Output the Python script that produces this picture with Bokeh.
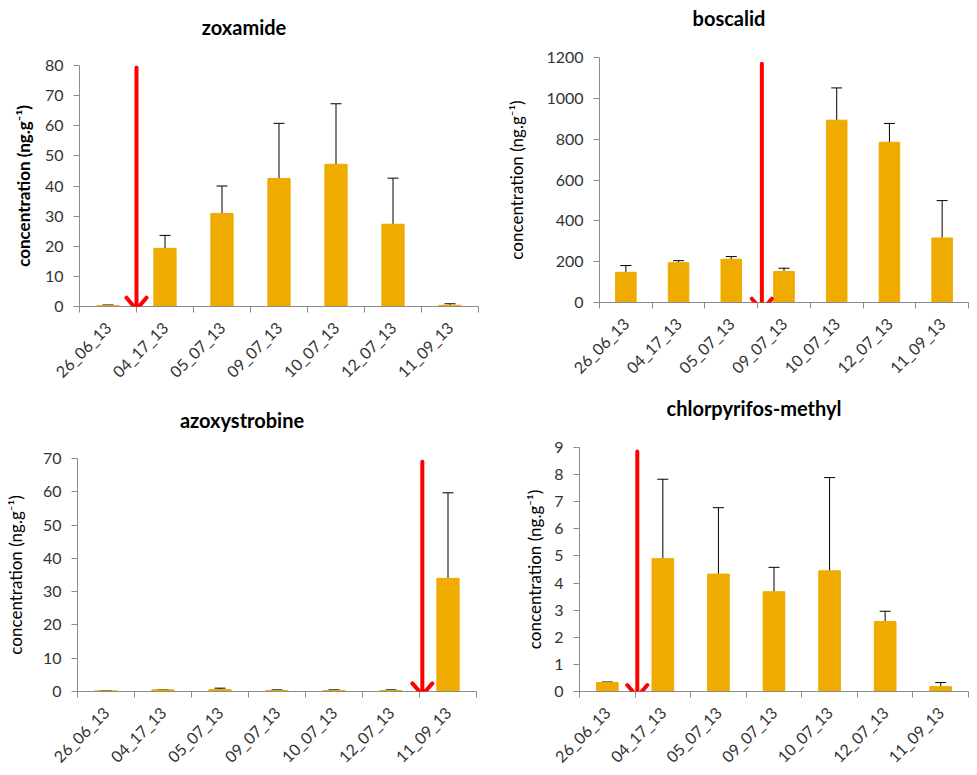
from bokeh.plotting import figure
from bokeh.layouts import column, row
from bokeh.models import (ColumnDataSource, Range1d, FixedTicker, SingleIntervalTicker,
                          Whisker, TeeHead, Arrow, LinearAxis)
from bokeh.embed import file_html
from bokeh.resources import INLINE

categories = ["26_06_13", "04_17_13", "05_07_13", "09_07_13", "10_07_13", "12_07_13", "11_09_13"]

zox_vals = [0.3, 19.3, 30.9, 42.5, 47.2, 27.3, 0.4]
zox_err = [0.2, 4.3, 9.1, 18.3, 20.1, 15.3, 0.5]

bos_vals = [148, 195, 212, 152, 893, 785, 316]
bos_err = [33, 10, 13, 16, 158, 92, 183]

azo_vals = [0.2, 0.5, 0.6, 0.3, 0.3, 0.3, 34.0]
azo_err = [0.1, 0.1, 0.4, 0.2, 0.2, 0.2, 25.7]

chl_vals = [0.33, 4.9, 4.33, 3.68, 4.45, 2.58, 0.18]
chl_err = [0.02, 2.93, 2.45, 0.9, 3.44, 0.38, 0.15]

# treatment arrows: (position on category axis, top value, tip value)
zox_arrow = (1.0, 79.3, -1.0)
bos_arrow = (3.08, 1170, -40)
azo_arrow = (6.05, 69.0, -1.0)
chl_arrow = (1.04, 8.85, -0.2)

FONT = "Lato"
BAR = "#EFAB00"
AXIS = "#8C8C8C"
TXT = "#333333"
RED = "#FF0000"
YLABEL = "concentration (ng.g\u207b\u00b9)"
HEAD_HALF_PX = 10
HEAD_LEN_PX = 12
TITLE_PX = 20


def panel(title, vals, errs, ymax, step, arrow, w, h, left, right, top, bottom,
          bold_label, title_pos, label_standoff, title_pad):
    n = len(categories)
    xs = [i + 0.5 for i in range(n)]
    src = ColumnDataSource(dict(x=xs, top=vals,
                                upper=[v + e for v, e in zip(vals, errs)],
                                lower=[max(v - e, 0) for v, e in zip(vals, errs)]))
    p = figure(width=w, height=h, x_range=Range1d(0, n), y_range=Range1d(0, ymax),
               output_backend="svg", toolbar_location=None,
               min_border_left=left, min_border_right=right,
               min_border_top=top, min_border_bottom=bottom)
    p.frame_align = False
    p.outline_line_color = None
    p.grid.visible = False
    p.background_fill_color = "white"
    p.border_fill_color = "white"

    fw = w - left - right

    # chart title: label of an invisible axis above the frame; the label is centred on
    # the frame, so trailing en-spaces move the visible word left towards the panel centre
    ty = title_pos
    pad = "\u2002" * title_pad
    tax = LinearAxis(ticker=FixedTicker(ticks=[]),
                     axis_line_color=None, major_tick_line_color=None,
                     minor_tick_line_color=None, major_label_text_font_size="0px",
                     major_tick_out=0, major_tick_in=0, minor_tick_out=0, minor_tick_in=0,
                     major_label_standoff=0,
                     axis_label=title + pad, axis_label_text_font=FONT,
                     axis_label_text_font_size=f"{TITLE_PX}px",
                     axis_label_text_font_style="bold",
                     axis_label_text_color="#000000",
                     axis_label_standoff=top - ty - 14)
    p.add_layout(tax, "above")

    p.vbar(x="x", top="top", width=0.39, source=src, fill_color=BAR, line_color=BAR)
    p.add_layout(Whisker(base="x", upper="upper", lower="lower", source=src,
                         dimension="height", line_color="black", line_width=1,
                         upper_head=TeeHead(size=11, line_color="black", line_width=1),
                         lower_head=TeeHead(size=11, line_color="black", line_width=1)))

    # red arrow: shaft + open V head (head size converted from pixels to data units)
    fh = h - top - bottom
    ax, ay0, ay1 = arrow
    dx = HEAD_HALF_PX * n / fw
    dy = HEAD_LEN_PX * ymax / fh
    for (xa0, ya0, xa1, ya1) in [(ax, ay0, ax, ay1),
                                 (ax - dx, ay1 + dy, ax, ay1),
                                 (ax + dx, ay1 + dy, ax, ay1)]:
        p.add_layout(Arrow(x_start=xa0, y_start=ya0, x_end=xa1, y_end=ya1,
                           start=None, end=None, line_color=RED, line_width=4,
                           line_cap="round"))

    xa = p.below[0]
    xa.ticker = FixedTicker(ticks=xs, minor_ticks=list(range(n + 1)))
    xa.major_label_overrides = {x: c for x, c in zip(xs, categories)}
    xa.major_label_orientation = 0.785398
    xa.major_tick_line_color = None
    xa.minor_tick_in = 0
    xa.minor_tick_out = 6
    xa.minor_tick_line_color = AXIS
    xa.axis_line_color = AXIS
    xa.major_label_text_font = FONT
    xa.major_label_text_font_size = "16px"
    xa.major_label_text_color = TXT
    xa.major_label_standoff = 12

    ya = p.left[0]
    ya.ticker = SingleIntervalTicker(interval=step, num_minor_ticks=0)
    ya.axis_line_color = AXIS
    ya.major_tick_line_color = AXIS
    ya.major_tick_in = 0
    ya.major_tick_out = 6
    ya.minor_tick_line_color = None
    ya.major_label_text_font = FONT
    ya.major_label_text_font_size = "16px"
    ya.major_label_text_color = TXT
    ya.major_label_standoff = 10
    ya.axis_label = YLABEL
    ya.axis_label_text_font = FONT
    ya.axis_label_text_font_size = "17px"
    ya.axis_label_text_color = "#000000"
    ya.axis_label_text_font_style = "bold" if bold_label else "normal"
    ya.axis_label_standoff = label_standoff
    return p


p1 = panel("zoxamide", zox_vals, zox_err, 80, 10, zox_arrow, 490, 390, 79, 12, 65, 80, True, 24, 8, 7)
p2 = panel("boscalid", bos_vals, bos_err, 1200, 200, bos_arrow, 487, 390, 109, 9, 57, 88, False, 15, 16, 11)
p3 = panel("azoxystrobine", azo_vals, azo_err, 70, 10, azo_arrow, 490, 385, 77, 14, 68, 72, False, 27, 14, 7)
p4 = panel("chlorpyrifos-methyl", chl_vals, chl_err, 9, 1, chl_arrow, 487, 385, 89, 9, 57, 82, False, 15, 6, 4)

layout = column(row(p1, p2), row(p3, p4))

open("out.html", "w").write(file_html(layout, INLINE))
